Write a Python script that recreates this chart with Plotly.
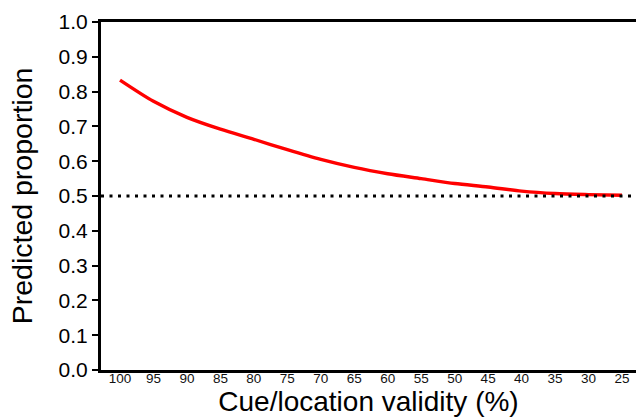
import plotly.graph_objects as go

validity = [100, 95, 90, 85, 80, 75, 70, 65, 60, 55, 50, 45, 40, 35, 30, 25]
predicted = [0.833, 0.772, 0.726, 0.692, 0.663, 0.633, 0.605, 0.582, 0.564, 0.550,
             0.536, 0.526, 0.514, 0.507, 0.504, 0.502]
chance_level = 0.5
y_ticks = [0.0, 0.1, 0.2, 0.3, 0.4, 0.5, 0.6, 0.7, 0.8, 0.9, 1.0]

fig = go.Figure()
fig.add_trace(go.Scatter(
    x=validity, y=predicted, mode="lines",
    line=dict(color="#ff0000", width=3.4, shape="spline", smoothing=0.8),
    showlegend=False, hoverinfo="skip"))

fig.add_shape(type="line", xref="paper", yref="y", x0=0, x1=1,
              y0=chance_level, y1=chance_level,
              line=dict(color="black", width=3, dash="3px,5.5px"))

fig.update_layout(
    width=636, height=418,
    margin=dict(l=101, r=0, t=22, b=48),
    paper_bgcolor="white", plot_bgcolor="white",
    font=dict(family="Liberation Sans, Arial, sans-serif", color="black"),
    xaxis=dict(
        range=[102.84, 22.91], tickvals=validity,
        ticktext=[str(v) for v in validity],
        tickfont=dict(size=13.5, color="#111",
                      family="Liberation Sans Narrow, Arial Narrow, Liberation Sans, sans-serif"),
        ticklabelstandoff=-6,
        showgrid=False, zeroline=False,
        showline=True, linecolor="black", linewidth=2.5, mirror=True,
        ticks="", ticklen=0,
        title=dict(text="Cue/location validity (%)", font=dict(size=28), standoff=0),
    ),
    yaxis=dict(
        range=[0, 1], tickvals=y_ticks,
        ticktext=[f"{v:.1f}" for v in y_ticks],
        tickfont=dict(size=21),
        showgrid=False, zeroline=False,
        showline=True, linecolor="black", linewidth=3,
        ticks="outside", ticklen=6, tickwidth=2, tickcolor="black",
        title=dict(text="Predicted proportion", font=dict(size=28.5), standoff=18),
    ),
)

fig.write_html("out.html")
